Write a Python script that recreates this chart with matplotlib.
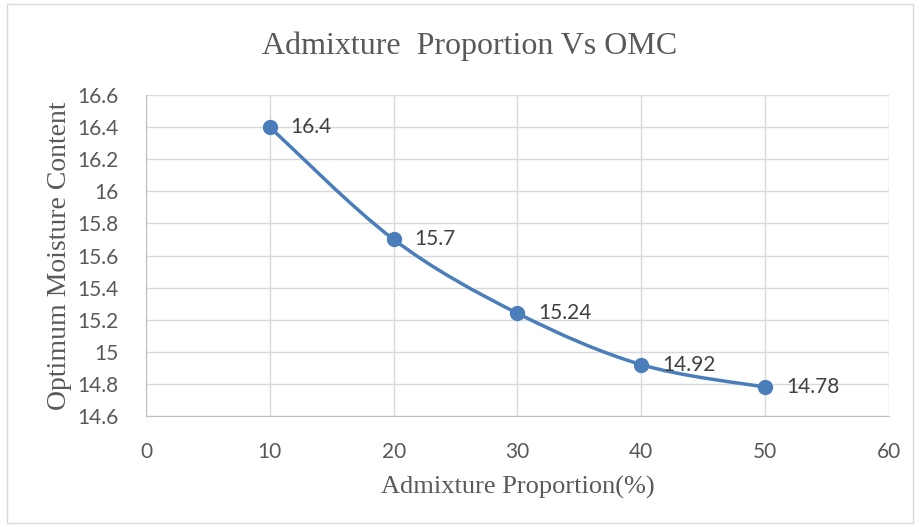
import matplotlib.pyplot as plt
import numpy as np
from matplotlib.path import Path
from matplotlib.patches import PathPatch, Rectangle

proportion = [10, 20, 30, 40, 50]
omc = [16.4, 15.7, 15.24, 14.92, 14.78]
labels = ["16.4", "15.7", "15.24", "14.92", "14.78"]
xticks = [0, 10, 20, 30, 40, 50, 60]
yticks = [14.6, 14.8, 15, 15.2, 15.4, 15.6, 15.8, 16, 16.2, 16.4, 16.6]
yticklabels = ["14.6", "14.8", "15", "15.2", "15.4", "15.6", "15.8", "16", "16.2", "16.4", "16.6"]

blue = '#4a7ebb'
tick_font = 'Lato'
serif = 'Liberation Serif'

fig = plt.figure(figsize=(9.2, 5.27), dpi=100)
fig.patches.append(Rectangle((0.008, 0.008), 0.984, 0.984, transform=fig.transFigure,
                             fill=False, edgecolor='#d9d9d9', linewidth=1))
ax = fig.add_axes([0.1587, 0.2106, 0.8076, 0.6091])

ax.set_xlim(0, 60)
ax.set_ylim(14.6, 16.6)
ax.set_xticks(xticks)
ax.set_yticks(yticks)
ax.set_yticklabels(yticklabels)
ax.grid(True, color='#d9d9d9', linewidth=1)
ax.set_axisbelow(True)
for s in ['top', 'right']:
    ax.spines[s].set_visible(False)
ax.spines['left'].set_color('#bfbfbf')
ax.spines['bottom'].set_color('#bfbfbf')
ax.tick_params(length=0, labelsize=15, labelcolor='#595959')
ax.tick_params(axis='y', pad=20)
ax.tick_params(axis='x', pad=19)
for t in ax.get_xticklabels() + ax.get_yticklabels():
    t.set_family(tick_font)

# smoothed line (Catmull-Rom as Bezier, like Excel smoothing)
pts = np.column_stack([proportion, omc]).astype(float)
verts = [pts[0]]
codes = [Path.MOVETO]
n = len(pts)
for i in range(n - 1):
    p0 = pts[max(i - 1, 0)]
    p1 = pts[i]
    p2 = pts[i + 1]
    p3 = pts[min(i + 2, n - 1)]
    c1 = p1 + (p2 - p0) / 6
    c2 = p2 - (p3 - p1) / 6
    verts += [c1, c2, p2]
    codes += [Path.CURVE4] * 3
ax.add_patch(PathPatch(Path(verts, codes), fill=False, edgecolor=blue, linewidth=2.5, zorder=3))
ax.plot(proportion, omc, 'o', color=blue, markersize=10, zorder=4)

for x, y, lab in zip(proportion, omc, labels):
    ax.annotate(lab, (x, y), xytext=(15, 0), textcoords='offset points', va='center', ha='left',
                fontsize=15, color='#404040', family=tick_font, zorder=5)

fig.text(0.511, 0.913, "Admixture  Proportion Vs OMC", ha='center', va='center',
         fontsize=23, color='#595959', family=serif)
ax.set_xlabel("Admixture Proportion(%)", fontsize=19, color='#595959', family=serif, va='center')
ax.xaxis.set_label_coords(0.5, -0.224)
ax.set_ylabel("Optimum Moisture Content", fontsize=20, color='#595959', family=serif, va='center')
ax.yaxis.set_label_coords(-0.116, 0.5)

fig.savefig('out.png', dpi=100)
